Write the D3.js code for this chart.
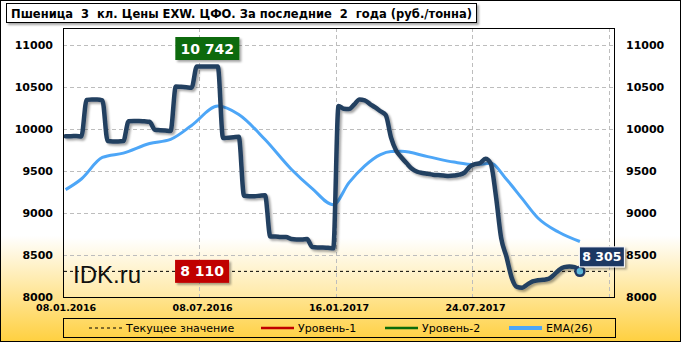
<!DOCTYPE html>
<html>
<head>
<meta charset="utf-8">
<script src="https://cdn.jsdelivr.net/npm/d3@7"></script>
<style>
  body { margin: 0; background: #fff; }
  svg { display: block; }
</style>
</head>
<body>
<div id="chart"></div>
<script>
// data (weekly points, index 0 = 08.01.2016)
const tickIdx = [0, 26, 52, 78];
const tickLabels = ["08.01.2016", "08.07.2016", "16.01.2017", "24.07.2017"];
const price = [
  9913, 9913, 9915, 9910,
  10345, 10350, 10350, 10340,
  9855, 9850, 9850, 9855,
  10090, 10095, 10095, 10090, 10085,
  9990, 9985, 9980, 9975,
  10505, 10500, 10495, 10490,
  10742, 10742, 10742, 10742, 10742,
  9890, 9895, 9900, 9905,
  9205, 9200, 9200, 9205, 9210,
  8720, 8720, 8715, 8715,
  8690, 8685, 8685, 8690,
  8595, 8590, 8590, 8585, 8580,
  10271, 10240, 10235, 10290, 10350, 10340, 10295, 10255, 10210,
  10165, 9900, 9740, 9660, 9590, 9525, 9490, 9475, 9465, 9455,
  9450, 9445, 9440, 9445, 9455, 9480, 9550, 9580, 9595, 9645,
  9590, 9200, 8700, 8480, 8230, 8120, 8110, 8150, 8185, 8200,
  8205, 8215, 8260, 8320, 8355, 8362, 8355, 8305
];
const emaIdx = [0, 3, 7, 11, 16, 20, 24, 29, 33, 38, 43, 47, 51, 54, 57, 60, 62, 64, 69, 74, 78, 81, 84, 87, 90, 94, 98];
const emaVal = [9277, 9404, 9660, 9712, 9826, 9875, 10040, 10271, 10170, 9873, 9520, 9290, 9098, 9360, 9560, 9694, 9730, 9734, 9670, 9605, 9575, 9590, 9400, 9170, 8940, 8770, 8660];
const yTicks = [8000, 8500, 9000, 9500, 10000, 10500, 11000];
const level1 = 8110;
const level2 = 10742;
const current = 8305;
const title = "Пшеница  3  кл. Цены EXW. ЦФО. За последние  2  года (руб./тонна)";
const legendItems = ["Текущее значение", "Уровень-1", "Уровень-2", "EMA(26)"];

const WIDTH = 681, HEIGHT = 342;
const PLOT = { LEFT: 63, RIGHT: 614, TOP: 28, BOTTOM: 297 };
const BOLD = "'DejaVu Sans', Verdana, sans-serif";

const svg = d3.select("#chart").append("svg")
  .attr("width", WIDTH)
  .attr("height", HEIGHT);

const defs = svg.append("defs");

const bg = defs.append("linearGradient").attr("id", "bg")
  .attr("x1", 0).attr("y1", 0).attr("x2", 0).attr("y2", 1);
bg.append("stop").attr("offset", 0).attr("stop-color", "#ffffff");
bg.append("stop").attr("offset", 0.69).attr("stop-color", "#ffffff");
bg.append("stop").attr("offset", 1).attr("stop-color", "#ffd040");

const pg = defs.append("linearGradient").attr("id", "pg")
  .attr("x1", 0).attr("y1", 0).attr("x2", 0).attr("y2", 1);
pg.append("stop").attr("offset", 0).attr("stop-color", "#ffffff");
pg.append("stop").attr("offset", 0.78).attr("stop-color", "#ffffff");
pg.append("stop").attr("offset", 1).attr("stop-color", "#ffe9a6");

const sh = defs.append("filter").attr("id", "sh")
  .attr("x", "-10%").attr("y", "-30%").attr("width", "130%").attr("height", "180%");
sh.append("feDropShadow").attr("dx", 2).attr("dy", 2).attr("stdDeviation", 1.2)
  .attr("flood-color", "#000").attr("flood-opacity", 0.35);

// chart background + frame
svg.append("rect")
  .attr("x", 0.5).attr("y", 0.5)
  .attr("width", WIDTH - 1).attr("height", HEIGHT - 1)
  .attr("fill", "url(#bg)").attr("stroke", "#000");

// scales
const x = d3.scaleLinear().domain([-0.5, 104.5]).range([PLOT.LEFT, PLOT.RIGHT]);
const y = d3.scaleLinear().domain([8000, 11200]).range([PLOT.BOTTOM, PLOT.TOP]);

svg.append("rect")
  .attr("x", PLOT.LEFT).attr("y", PLOT.TOP)
  .attr("width", PLOT.RIGHT - PLOT.LEFT).attr("height", PLOT.BOTTOM - PLOT.TOP)
  .attr("fill", "url(#pg)");

// grid
const grid = svg.append("g")
  .attr("stroke", "#bdbdbd").attr("stroke-dasharray", "4,3").attr("stroke-width", 1);
grid.selectAll(".h").data(yTicks.slice(1)).enter().append("line")
  .attr("x1", PLOT.LEFT).attr("x2", PLOT.RIGHT)
  .attr("y1", d => Math.round(y(d)) + 0.5).attr("y2", d => Math.round(y(d)) + 0.5);
const vLines = tickIdx.slice(1).concat([tickIdx[tickIdx.length - 1] + 26]).map(i => i - 0.5);
grid.selectAll(".v").data(vLines).enter().append("line")
  .attr("y1", PLOT.TOP).attr("y2", PLOT.BOTTOM)
  .attr("x1", d => Math.round(x(d)) + 0.5).attr("x2", d => Math.round(x(d)) + 0.5);

// watermark
svg.append("text")
  .attr("x", 73).attr("y", 283)
  .attr("font-family", "'Liberation Sans', Arial, sans-serif")
  .attr("font-size", 24)
  .attr("fill", "#111")
  .text("IDK.ru");

// current value dashed line
svg.append("line")
  .attr("x1", PLOT.LEFT + 1).attr("x2", 610)
  .attr("y1", y(current)).attr("y2", y(current))
  .attr("stroke", "#000").attr("stroke-width", 1).attr("stroke-dasharray", "3,3");

// levels
svg.append("line")
  .attr("x1", PLOT.LEFT + 2).attr("x2", 612)
  .attr("y1", y(level2)).attr("y2", y(level2))
  .attr("stroke", "#0b6b0b").attr("stroke-width", 2.2).attr("filter", "url(#sh)");
svg.append("line")
  .attr("x1", PLOT.LEFT + 2).attr("x2", 612)
  .attr("y1", y(level1)).attr("y2", y(level1))
  .attr("stroke", "#c00000").attr("stroke-width", 2.2).attr("filter", "url(#sh)");

// EMA
const emaData = emaIdx.map((d, i) => [d, emaVal[i]]);
svg.append("path")
  .datum(emaData)
  .attr("fill", "none")
  .attr("stroke", "#4da6f7")
  .attr("stroke-width", 3)
  .attr("stroke-linejoin", "round")
  .attr("d", d3.line().x(d => x(d[0])).y(d => y(d[1])).curve(d3.curveMonotoneX));

// price
svg.append("path")
  .datum(price)
  .attr("fill", "none")
  .attr("stroke", "#243f60")
  .attr("stroke-width", 4.5)
  .attr("stroke-linejoin", "round")
  .attr("stroke-linecap", "round")
  .attr("filter", "url(#sh)")
  .attr("d", d3.line().x((d, i) => x(i)).y(d => y(d)).curve(d3.curveMonotoneX));

// last point marker
const last = price.length - 1;
svg.append("circle")
  .attr("cx", x(last)).attr("cy", y(price[last])).attr("r", 4.5)
  .attr("fill", "#5bb8da").attr("stroke", "#1f3864").attr("stroke-width", 2.5);

// plot border
svg.append("rect")
  .attr("x", PLOT.LEFT + 0.5).attr("y", PLOT.TOP + 0.5)
  .attr("width", PLOT.RIGHT - PLOT.LEFT).attr("height", PLOT.BOTTOM - PLOT.TOP)
  .attr("fill", "none").attr("stroke", "#000");

// value boxes
function valueBox(cx, cy, w, h, fill, stroke, txt, size) {
  const g = svg.append("g");
  g.append("rect")
    .attr("x", cx - w / 2).attr("y", cy - h / 2)
    .attr("width", w).attr("height", h)
    .attr("fill", fill).attr("stroke", stroke).attr("stroke-width", stroke === "none" ? 0 : 1)
    .attr("filter", "url(#sh)");
  g.append("text")
    .attr("x", cx).attr("y", cy).attr("dy", "0.36em")
    .attr("text-anchor", "middle")
    .attr("font-family", BOLD).attr("font-weight", "bold")
    .attr("font-size", size).attr("fill", "#fff")
    .text(txt);
}
const fmt = v => d3.format(",")(v).replace(/,/g, " ");
valueBox(x(27), y(level2) - 18, 64, 23, "#0b6b0b", "none", fmt(level2), 14);
valueBox(x(26), y(current), 54, 23, "#c00000", "none", fmt(level1), 14);
valueBox(x(last) + 22, y(price[last]) - 14.5, 45, 20, "#1f3864", "#fff", fmt(current), 12.5);

// axes
const yLeft = svg.append("g")
  .attr("transform", `translate(${PLOT.LEFT},0)`)
  .call(d3.axisLeft(y).tickValues(yTicks).tickSize(0).tickPadding(10).tickFormat(d3.format("d")));
const yRight = svg.append("g")
  .attr("transform", `translate(${PLOT.RIGHT},0)`)
  .call(d3.axisRight(y).tickValues(yTicks).tickSize(0).tickPadding(12).tickFormat(d3.format("d")));
const xAxis = svg.append("g")
  .attr("transform", `translate(0,${PLOT.BOTTOM})`)
  .call(d3.axisBottom(x).tickValues(tickIdx).tickSize(0).tickPadding(7)
    .tickFormat((d, i) => tickLabels[i]));

[yLeft, yRight, xAxis].forEach(a => {
  a.select(".domain").remove();
  a.selectAll("text")
    .attr("font-family", BOLD).attr("font-weight", "bold")
    .attr("font-size", 11).attr("fill", "#000");
});
xAxis.selectAll("text").attr("font-size", 9.5);
yLeft.selectAll("text").attr("x", -10);

// title
svg.append("rect")
  .attr("x", 6.5).attr("y", 3.5).attr("width", 470).attr("height", 19)
  .attr("fill", "#fff").attr("stroke", "#000").attr("filter", "url(#sh)");
svg.append("text")
  .attr("x", 11).attr("y", 18)
  .attr("font-family", BOLD).attr("font-weight", "bold")
  .attr("font-size", 12)
  .attr("xml:space", "preserve")
  .style("white-space", "pre")
  .attr("textLength", 461).attr("lengthAdjust", "spacingAndGlyphs")
  .text(title);

// legend
const legend = svg.append("g");
legend.append("rect")
  .attr("x", 63.5).attr("y", 318.5).attr("width", 552).attr("height", 19)
  .attr("fill", "none").attr("stroke", "#000");
const legX = [89, 261, 385, 509];
const legStyle = [
  { c: "#000", w: 1, dash: "3,3" },
  { c: "#c00000", w: 2.5, dash: null },
  { c: "#0b6b0b", w: 2.5, dash: null },
  { c: "#4da6f7", w: 4, dash: null }
];
legendItems.forEach((name, i) => {
  legend.append("line")
    .attr("x1", legX[i]).attr("x2", legX[i] + 33)
    .attr("y1", 328).attr("y2", 328)
    .attr("stroke", legStyle[i].c).attr("stroke-width", legStyle[i].w)
    .attr("stroke-dasharray", legStyle[i].dash);
  legend.append("text")
    .attr("x", legX[i] + 37).attr("y", 332)
    .attr("font-family", "'DejaVu Sans', Tahoma, sans-serif")
    .attr("font-size", 11).attr("fill", "#000")
    .text(name);
});
</script>
</body>
</html>
